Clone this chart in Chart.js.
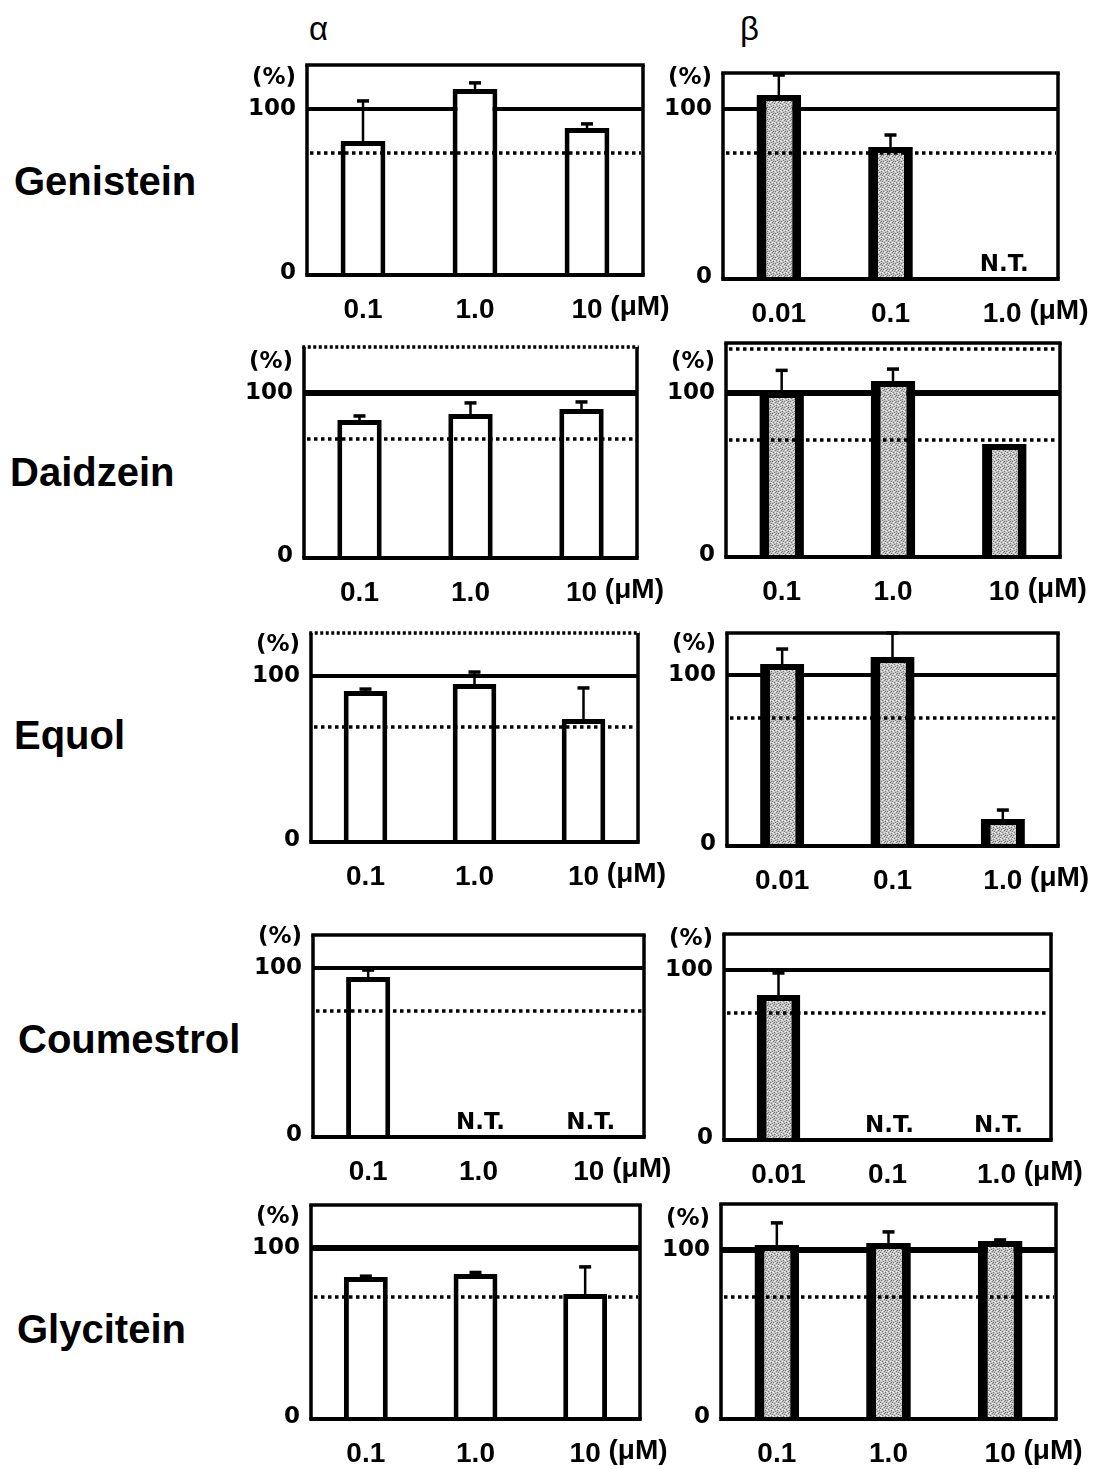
<!DOCTYPE html>
<html>
<head>
<meta charset="utf-8">
<script src="https://cdn.jsdelivr.net/npm/chart.js@4/dist/chart.umd.min.js"></script>
<style>
  html, body { margin: 0; padding: 0; background: #fff; }
  body { width: 1102px; height: 1469px; position: relative; overflow: hidden; }
  canvas { position: absolute; }
  .row { position: absolute; font-family: "Liberation Sans", Arial, sans-serif; font-weight: bold;
         font-size: 40px; line-height: 40px; color: #000; white-space: nowrap; }
  .head { position: absolute; font-family: "Liberation Sans", Arial, sans-serif;
          font-size: 33px; line-height: 33px; color: #000; }
</style>
</head>
<body>
<div class="head" style="left:309px;top:12px">α</div>
<div class="head" style="left:740px;top:12px">β</div>
<script>
// ---- doses (µM) ----
const alphaDoses = ["0.1", "1.0", "10"];
const betaLowDoses = ["0.01", "0.1", "1.0"];
const betaHighDoses = ["0.1", "1.0", "10"];
const unitLabel = "(μM)";
const notTestedLabel = "N.T.";
const compounds = ["Genistein", "Daidzein", "Equol", "Coumestrol", "Glycitein"];

// ---- response (% of control), null = not tested ----
const genisteinAlpha = [80.5, 112.2, 88.4];
const genisteinAlphaErr = [24.4, 3.7, 2.5];
const genisteinBeta = [108.3, 77.4, null];
const genisteinBetaErr = [11.9, 7.1, null];

const daidzeinAlpha = [83.4, 87.1, 90.2];
const daidzeinAlphaErr = [2.5, 6.8, 4.3];
const daidzeinBeta = [100.6, 107.4, 68.5];
const daidzeinBetaErr = [13.4, 7.4, 0];

const equolAlpha = [90.9, 95.1, 73.8];
const equolAlphaErr = [1.1, 7.3, 18.9];
const equolBeta = [106.5, 110.7, 14.8];
const equolBetaErr = [8.9, 14.2, 5.3];

const coumestrolAlpha = [94.6, null, null];
const coumestrolAlphaErr = [4.2, null, null];
const coumestrolBeta = [85.1, null, null];
const coumestrolBetaErr = [13.1, null, null];

const glyciteinAlpha = [82.8, 84.6, 72.8];
const glyciteinAlphaErr = [0.5, 0.9, 16.0];
const glyciteinBeta = [103.0, 104.2, 105.4];
const glyciteinBetaErr = [13.2, 6.6, 0.6];

// ---- reference levels and axis tops, panel order: Gen α, Gen β, Dai α, Dai β, Equ α, Equ β, Cou α, Cou β, Gly α, Gly β ----
const controlLevel = 100;
const dottedLevels = [73.2, 73.8, 71.8, 71.0, 68.9, 74.6, 74.3, 74.4, 71.0, 71.9];
const axisMax = [126.8, 121.4, 128.2, 130.9, 126.2, 124.9, 119.8, 121.4, 125.4, 127.5];

// ---- page layout: plot box [left, right, top, zero-line] in page pixels ----
const boxes = [
  [307, 643, 65, 273], [723, 1058, 73, 277],
  [304, 637, 347, 556], [726, 1060, 343, 555],
  [311, 638, 633, 840], [727, 1058, 633, 844],
  [313, 644, 935, 1135], [724, 1051, 934, 1138],
  [311, 640, 1205, 1417], [721, 1056, 1204, 1417]
];
const rowLabelPos = [[14, 161], [10, 452], [14, 715], [18, 1019], [17, 1309]];
const controlLineWidth = [4, 4, 6, 6, 4, 4, 4, 4, 6, 6];
const dottedTopEdge = [false, false, true, false, true, false, false, false, false, false];
const innerTopDotted = [null, null, null, 127.2, null, null, null, null, null, null];

const panels = [
  { doses: alphaDoses, values: genisteinAlpha, errors: genisteinAlphaErr, beta: false },
  { doses: betaLowDoses, values: genisteinBeta, errors: genisteinBetaErr, beta: true },
  { doses: alphaDoses, values: daidzeinAlpha, errors: daidzeinAlphaErr, beta: false },
  { doses: betaHighDoses, values: daidzeinBeta, errors: daidzeinBetaErr, beta: true },
  { doses: alphaDoses, values: equolAlpha, errors: equolAlphaErr, beta: false },
  { doses: betaLowDoses, values: equolBeta, errors: equolBetaErr, beta: true },
  { doses: alphaDoses, values: coumestrolAlpha, errors: coumestrolAlphaErr, beta: false },
  { doses: betaLowDoses, values: coumestrolBeta, errors: coumestrolBetaErr, beta: true },
  { doses: alphaDoses, values: glyciteinAlpha, errors: glyciteinAlphaErr, beta: false },
  { doses: betaHighDoses, values: glyciteinBeta, errors: glyciteinBetaErr, beta: true }
];

// compound names down the left side
compounds.forEach((name, i) => {
  const d = document.createElement('div');
  d.className = 'row';
  d.textContent = name;
  d.style.left = rowLabelPos[i][0] + 'px';
  d.style.top = rowLabelPos[i][1] + 'px';
  document.body.appendChild(d);
});

// stippled grey tile for the β bars
const stippleTile = (() => {
  const c = document.createElement('canvas');
  c.width = 6; c.height = 6;
  const g = c.getContext('2d');
  g.fillStyle = '#c2c2c2'; g.fillRect(0, 0, 6, 6);
  g.fillStyle = '#7a7a7a';
  [[0,0],[3,1],[1,3],[4,4],[2,5],[5,2],[4,0]].forEach(([x, y]) => g.fillRect(x, y, 1, 1));
  g.fillStyle = '#efefef';
  [[2,0],[5,3],[0,4],[3,3],[1,1]].forEach(([x, y]) => g.fillRect(x, y, 1, 1));
  return c;
})();

const tickFont = { family: '"Liberation Sans", Arial, sans-serif', weight: 'bold', size: 28 };
const smallFont = 'bold 23px "DejaVu Sans", sans-serif';

function decorPlugin(i) {
  const p = panels[i];
  return {
    id: 'decor' + i,
    beforeDatasetsDraw(chart) {
      const { ctx, chartArea: a, scales: { y } } = chart;
      const yy = y.getPixelForValue(controlLevel);
      ctx.save();
      ctx.strokeStyle = '#000';
      ctx.lineWidth = controlLineWidth[i];
      ctx.beginPath(); ctx.moveTo(a.left, yy); ctx.lineTo(a.right, yy); ctx.stroke();
      ctx.restore();
    },
    afterDatasetsDraw(chart) {
      const { ctx, chartArea: a, scales: { x, y } } = chart;
      ctx.save();
      ctx.strokeStyle = '#000';
      ctx.fillStyle = '#000';

      // dotted reference line
      const dotted = (v) => {
        const yy = y.getPixelForValue(v);
        ctx.setLineDash([3.5, 3.5]);
        ctx.lineWidth = 3.5;
        ctx.beginPath(); ctx.moveTo(a.left + 3, yy); ctx.lineTo(a.right - 2, yy); ctx.stroke();
        ctx.setLineDash([]);
      };
      dotted(dottedLevels[i]);
      if (innerTopDotted[i] !== null) dotted(innerTopDotted[i]);

      // error bars (upper only)
      const meta = chart.getDatasetMeta(0);
      p.values.forEach((v, k) => {
        const e = p.errors[k];
        if (v === null || !e) return;
        const bx = meta.data[k].x;
        const y0 = y.getPixelForValue(v);
        const y1 = y.getPixelForValue(v + e);
        ctx.lineWidth = 2.5;
        ctx.beginPath(); ctx.moveTo(bx, y0); ctx.lineTo(bx, y1); ctx.stroke();
        ctx.lineWidth = 3.5;
        ctx.beginPath(); ctx.moveTo(bx - 6, y1); ctx.lineTo(bx + 6, y1); ctx.stroke();
      });

      // N.T. markers for untested doses
      ctx.font = smallFont;
      ctx.textAlign = 'center';
      ctx.textBaseline = 'middle';
      p.values.forEach((v, k) => {
        if (v === null) ctx.fillText(notTestedLabel, x.getPixelForValue(k) + 2, y.getPixelForValue(0) - 12);
      });

      // "(%)" above the 100 tick
      ctx.textAlign = 'right';
      ctx.fillText('(%)', a.left - 11, y.getPixelForValue(controlLevel) - 31);

      // plot frame
      const bottom = y.getPixelForValue(0) + 2;
      ctx.lineWidth = 3.5;
      ctx.beginPath();
      ctx.moveTo(a.left, a.top); ctx.lineTo(a.left, bottom);
      ctx.moveTo(a.right, a.top); ctx.lineTo(a.right, bottom);
      ctx.stroke();
      ctx.lineWidth = 4;
      ctx.beginPath(); ctx.moveTo(a.left - 1.75, bottom); ctx.lineTo(a.right + 1.75, bottom); ctx.stroke();
      if (dottedTopEdge[i]) ctx.setLineDash([3, 2.5]);
      ctx.lineWidth = 3.5;
      ctx.beginPath(); ctx.moveTo(a.left - 1.75, a.top); ctx.lineTo(a.right + 1.75, a.top); ctx.stroke();
      ctx.setLineDash([]);

      // unit after the last dose label
      const last = p.doses.length - 1;
      ctx.font = `${tickFont.weight} ${tickFont.size}px ${tickFont.family}`;
      const w = ctx.measureText(p.doses[last]).width;
      ctx.textAlign = 'left';
      ctx.textBaseline = 'top';
      ctx.fillText(' ' + unitLabel, x.getPixelForValue(last) + w / 2, x.top + x.options.ticks.padding);
      ctx.restore();
    }
  };
}

panels.forEach((p, i) => {
  const [L, R, T, Z] = boxes[i];
  const padL = 80, padR = p.beta ? 44 : 70, padT = 44, padB = 60;
  const w = (R - L) + padL + padR;
  const h = (Z - T) + padT + padB;
  const cv = document.createElement('canvas');
  cv.width = w; cv.height = h;
  cv.style.width = w + 'px'; cv.style.height = h + 'px';
  cv.style.left = (L - padL) + 'px';
  cv.style.top = (T - padT) + 'px';
  document.body.appendChild(cv);

  new Chart(cv, {
    type: 'bar',
    data: {
      labels: p.doses,
      datasets: [{
        data: p.values,
        backgroundColor: p.beta ? (c) => c.chart.ctx.createPattern(stippleTile, 'repeat') : '#ffffff',
        borderColor: '#000',
        borderWidth: p.beta ? { left: 10, right: 9, top: 6, bottom: 0 } : { left: 5, right: 5, top: 5, bottom: 0 },
        borderSkipped: 'start',
        barPercentage: 0.4,
        categoryPercentage: 1
      }]
    },
    options: {
      responsive: false,
      animation: false,
      devicePixelRatio: 1,
      layout: { padding: { left: 0, right: padR, top: padT, bottom: 0 } },
      plugins: { legend: { display: false }, tooltip: { enabled: false } },
      scales: {
        x: {
          grid: { display: false, drawTicks: false },
          border: { display: false },
          ticks: { font: tickFont, color: '#000', padding: 20, maxRotation: 0, autoSkip: false },
          afterFit(s) { s.height = padB; }
        },
        y: {
          min: 0, max: axisMax[i],
          grid: { display: false, drawTicks: false },
          border: { display: false },
          ticks: { font: { family: '"DejaVu Sans", sans-serif', weight: 'bold', size: 23 }, color: '#000', padding: 11 },
          afterBuildTicks(s) { s.ticks = [{ value: 0 }, { value: controlLevel }]; },
          afterFit(s) { s.width = padL; }
        }
      }
    },
    plugins: [decorPlugin(i)]
  });
});
</script>
</body>
</html>
